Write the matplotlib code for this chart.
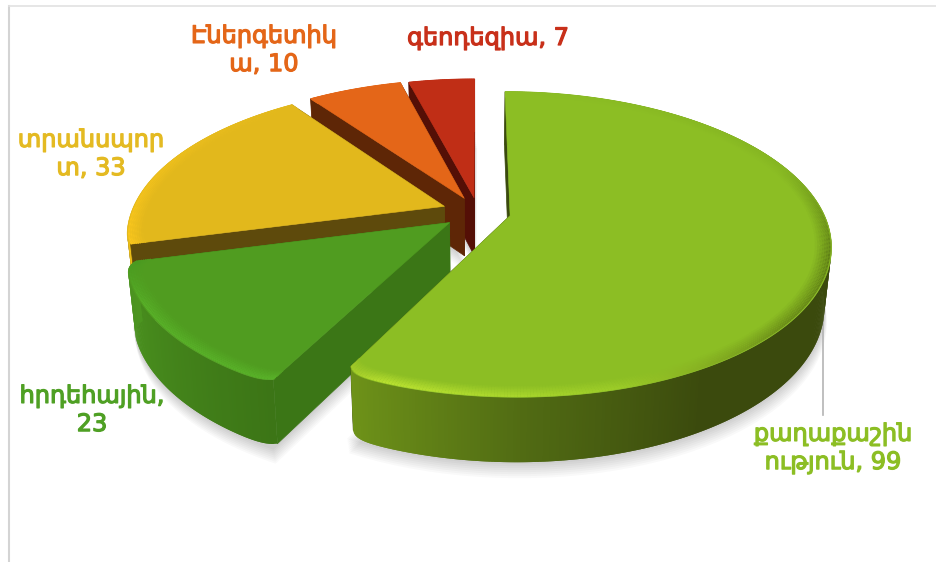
# -*- coding: utf-8 -*-
# Pastel 3D "explotado" dibujado a mano, con proyeccion en perspectiva
import numpy as np
import matplotlib
matplotlib.use("Agg")
import matplotlib.pyplot as plt
from matplotlib.colors import to_rgb
from matplotlib.patches import Polygon
import matplotlib.patheffects as pe

## DATOS ################################################################
labels = ["քաղաքաշին\nություն, 99", "հրդեհային,\n23", "տրանսպոր\nտ, 33",
          "Էներգետիկ\nա, 10", "գեոդեզիա, 7"]
values = [99, 23, 33, 10, 7]
colors = ["#8cbe24", "#509c20", "#e2b81c", "#e46618", "#c02e16"]
text_colors = ["#8cbe24", "#4fa024", "#e4ba22", "#e46618", "#c8301a"]
radial_wall = ["#3a4a0d", "#3b7616", "#5e4a0c", "#5e2606", "#540f06"]
# color de la pared exterior: (angulo, color)
rim_wall = [
    [(90, "#3b4a0d"), (150, "#3b4a0d"), (178, "#506a13"), (207, "#6f9419")],
    [(207, "#3c7516"), (255, "#4c9520")],
    [(255, "#5e4a0c"), (260, "#f5c518"), (324, "#f5c518")],
    [(324, "#e46618"), (345, "#e46618")],
    [(345, "#c02e16"), (360, "#c02e16")],
]
# color del bisel del borde superior: (angulo, color)
bevel = [
    [(0, "#8cbe24"), (70, "#86b622"), (105, "#5f7f16"), (130, "#6a8c18"), (165, "#9ccc28"), (200, "#b8e030"), (207, "#a0c828")],
    [(207, "#58b028"), (240, "#58b028"), (255, "#4a9a20")],
    [(255, "#fcc81c"), (300, "#e8bc1e"), (324, "#e2b81c")],
    [(324, "#e46618"), (345, "#e46618")],
    [(345, "#c02e16"), (360, "#c02e16")],
]
label_pos = [(833, 448), (92, 410), (91, 154), (264, 50), (488, 38)]
# redondeo de las esquinas del borde (inicio, fin) de cada porcion
corners = [(0, 0.035), (0.02, 0.03), (0.01, 0), (0, 0), (0, 0)]
# separacion de cada porcion respecto del centro
explode = [0.105, 0.115, 0.115, 0.105, 0.10]
#########################################################################

# Geometria de la proyeccion (pixeles)
cx, cy = 478, 212
R, S, k = 313, 146, 0.188
H = 58
x_bottom = 0.98
corner_w = 1.5  # grados


def top(u, v):
    w = 1 + k * v
    return cx + R * u / w, cy - S * v / w


def bottom(u, v):
    w = 1 + k * v
    x, y = top(u, v)
    return cx + (x - cx) * x_bottom, y + H * (1 + 0.5 * (1 / w - 1))


def interp_color(stops, ang):
    a = [s[0] for s in stops]
    c = np.array([to_rgb(s[1]) for s in stops])
    return tuple(np.interp(ang, a, c[:, i]) for i in range(3))


def rim(a, r, d):
    return r * np.sin(a) + d[0], r * np.cos(a) + d[1]


fig = plt.figure(figsize=(9.37, 5.62), dpi=100)
ax = fig.add_axes([0, 0, 1, 1])
ax.set_xlim(0, 937)
ax.set_ylim(562, 0)
ax.axis("off")

# marco del area del grafico
ax.plot([9, 9], [562, 6], color="#d4d4d4", lw=1.5)
ax.plot([9, 937], [6, 6], color="#e2e2e2", lw=1.2)

edges = np.cumsum([0] + values) / sum(values) * 360
offsets = []
for i in range(len(values)):
    mid = np.radians((edges[i] + edges[i + 1]) / 2)
    offsets.append((explode[i] * np.sin(mid), explode[i] * np.cos(mid)))

# sombra
for d in range(2, 18, 2):
    for i in range(len(values)):
        a = np.radians(np.linspace(edges[i], edges[i + 1], 80))
        ru, rv = rim(a, 1, offsets[i])
        pts = [bottom(offsets[i][0], offsets[i][1])] + [bottom(p, q) for p, q in zip(ru, rv)]
        pts = [(x + d * 0.15, y + d) for x, y in pts]
        ax.add_patch(Polygon(pts, closed=True, fc="black", ec="none", alpha=0.022, zorder=2))

# linea guia
ax.plot([823, 823], [320, 415], color="#b4b4b4", lw=1.2, zorder=3)

# porciones, de atras hacia adelante
order = [4, 3, 2, 1, 0]
for n, i in enumerate(order):
    z = 5 + n
    d = offsets[i]
    a0, a1 = edges[i], edges[i + 1]
    ang = np.linspace(a0, a1, int((a1 - a0) * 2) + 6)
    rad = np.radians(ang)
    rs = 1 - corners[i][0] * np.exp(-(ang - a0) / corner_w) - corners[i][1] * np.exp(-(a1 - ang) / corner_w)
    ru, rv = rim(rad, rs, d)

    # paredes radiales: las que miran al observador van sobre la pared exterior
    front_walls = []
    for j in (0, -1):
        quad = [top(*d), top(ru[j], rv[j]), bottom(ru[j], rv[j]), bottom(*d)]
        pm = rim(rad[j], 0.6, d)
        pi = rim(rad[j] + np.radians(5 if j == 0 else -5), 0.6, d)
        if top(*pi)[1] < top(*pm)[1]:
            front_walls.append(quad)
        else:
            ax.add_patch(Polygon(quad, closed=True, fc=radial_wall[i], ec=radial_wall[i], lw=0.5, zorder=z))

    # pared exterior con gradiente (tiras solapadas para que no se vean costuras)
    for j in range(len(ang) - 1):
        c = interp_color(rim_wall[i], ang[j])
        e = min(j + 2, len(ang) - 1)
        quad = [top(ru[j], rv[j])] + [top(ru[m], rv[m]) for m in range(j + 1, e + 1)]
        quad += [bottom(ru[m], rv[m]) for m in range(e, j - 1, -1)]
        ax.add_patch(Polygon(quad, closed=True, fc=c, ec="none", zorder=z))

    for quad in front_walls:
        ax.add_patch(Polygon(quad, closed=True, fc=radial_wall[i], ec=radial_wall[i], lw=0.5, zorder=z))

    # cara superior
    pts = [top(*d)] + [top(p, q) for p, q in zip(ru, rv)]
    ax.add_patch(Polygon(pts, closed=True, fc=colors[i], ec=colors[i], lw=0.4, zorder=z))

    # bisel: bandas finas hacia el borde
    base = np.array(to_rgb(colors[i]))
    for t in np.linspace(0.1, 1, 7):
        r1 = rs * (1 - 0.045 * (1 - t) - 0.006)
        u0, v0 = rim(rad, r1, d)
        xy = [top(p, q) for p, q in zip(u0, v0)]
        for j in range(len(ang) - 1):
            c = base + (np.array(interp_color(bevel[i], ang[j])) - base) * t
            ax.plot([xy[j][0], xy[j + 1][0]], [xy[j][1], xy[j + 1][1]], color=tuple(c),
                    lw=1.6, solid_capstyle="butt", zorder=z)

# etiquetas
for lab, pos, col in zip(labels, label_pos, text_colors):
    ax.text(pos[0], pos[1], lab, ha="center", va="center", ma="center", color=col,
            fontsize=17.3, family="DejaVu Sans", linespacing=1.22, zorder=20,
            path_effects=[pe.withStroke(linewidth=0.9, foreground=col)])

fig.savefig("out.png", dpi=100, facecolor="white")
